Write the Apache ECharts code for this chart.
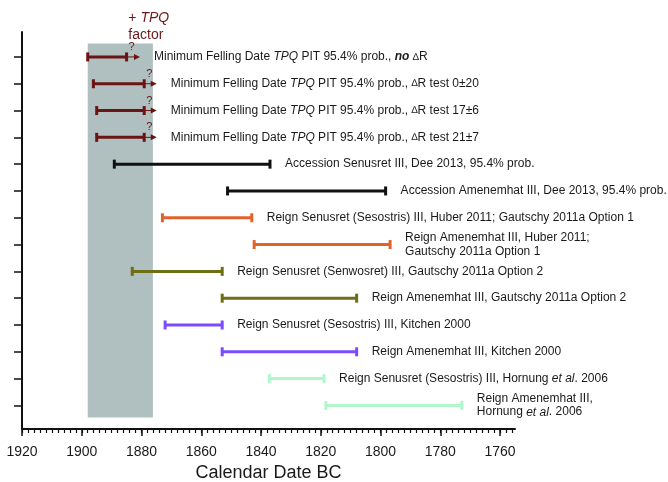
<!DOCTYPE html>
<html>
<head>
<meta charset="utf-8">
<script src="https://cdn.jsdelivr.net/npm/echarts@6/dist/echarts.min.js"></script>
<style>html,body{margin:0;padding:0;background:#fff}#c{width:668px;height:482px}</style>
</head>
<body>
<div id="c"></div>
<script>
// ---- data ----
const rows = [1, 2, 3, 4, 5, 6, 7, 8, 9, 10, 11, 12, 13, 14];
const startYears = [1898.0, 1896.1, 1895.0, 1895.0, 1889.1, 1851.2, 1873.0, 1842.3, 1883.1, 1853.0, 1872.1, 1853.0, 1837.2, 1818.3];
const endYears   = [1885.0, 1879.1, 1879.1, 1879.1, 1837.0, 1798.3, 1843.1, 1796.8, 1853.0, 1808.0, 1853.0, 1808.0, 1818.9, 1772.8];
const arrowYears = [1880.5, 1874.9, 1874.9, 1874.9, null, null, null, null, null, null, null, null, null, null];
const rowColors  = ['#6b1414', '#6b1414', '#6b1414', '#6b1414', '#111111', '#111111', '#e2622c', '#e2622c',
                    '#6e6e14', '#6e6e14', '#7b4cff', '#7b4cff', '#b2f6cc', '#b2f6cc'];
const rowLabels = [
  '{n|Minimum Felling Date }{i|TPQ}{n| PIT 95.4% prob., }{bi|no}{n| }{d|∆}{n|R}',
  '{n|Minimum Felling Date }{i|TPQ}{n| PIT 95.4% prob., }{d|∆}{n|R test 0±20}',
  '{n|Minimum Felling Date }{i|TPQ}{n| PIT 95.4% prob., }{d|∆}{n|R test 17±6}',
  '{n|Minimum Felling Date }{i|TPQ}{n| PIT 95.4% prob., }{d|∆}{n|R test 21±7}',
  '{n|Accession Senusret III, Dee 2013, 95.4% prob.}',
  '{n|Accession Amenemhat III, Dee 2013, 95.4% prob.}',
  '{n|Reign Senusret (Sesostris) III, Huber 2011; Gautschy 2011a Option 1}',
  '{n|Reign Amenemhat III, Huber 2011;}\n{n|Gautschy 2011a Option 1}',
  '{n|Reign Senusret (Senwosret) III, Gautschy 2011a Option 2}',
  '{n|Reign Amenemhat III, Gautschy 2011a Option 2}',
  '{n|Reign Senusret (Sesostris) III, Kitchen 2000}',
  '{n|Reign Amenemhat III, Kitchen 2000}',
  '{n|Reign Senusret (Sesostris) III, Hornung }{i|et al}{n|. 2006}',
  '{n|Reign Amenemhat III,}\n{n|Hornung }{i|et al}{n|. 2006}'
];
const tpqRange = [1898.0, 1876.2];   // grey band (years)
const tpqRows  = [0.5, 14.45];
const majorTicks = [1760, 1780, 1800, 1820, 1840, 1860, 1880, 1900, 1920];
const minorTicks = [];
for (let y = 1756; y <= 1920; y += 2) minorTicks.push(y);

const FONT = '"Liberation Sans", Arial, Helvetica, sans-serif';

const seriesData = rows.map((r, i) => [startYears[i], endYears[i], r, arrowYears[i] == null ? -1 : arrowYears[i]]);

const rich = {
  n:  { fontSize: 12, fontFamily: FONT, fill: '#1a1a1a', lineHeight: 13.5 },
  i:  { fontSize: 12, fontFamily: FONT, fill: '#1a1a1a', fontStyle: 'italic', lineHeight: 13.5 },
  bi: { fontSize: 12, fontFamily: FONT, fill: '#1a1a1a', fontStyle: 'italic', fontWeight: 'bold', lineHeight: 13.5 },
  d:  { fontSize: 10, fontFamily: FONT, fill: '#1a1a1a', lineHeight: 13.5 }
};

function renderItem(params, api) {
  const i = params.dataIndex;
  const row = api.value(2);
  const s = api.coord([api.value(0), row]);
  const e = api.coord([api.value(1), row]);
  const col = rowColors[i];
  const y = s[1];
  const capH = 4.5;
  const children = [
    { type: 'line', shape: { x1: s[0], y1: y, x2: e[0], y2: y }, style: { stroke: col, lineWidth: 3 } },
    { type: 'line', shape: { x1: s[0], y1: y - capH, x2: s[0], y2: y + capH }, style: { stroke: col, lineWidth: 3 } },
    { type: 'line', shape: { x1: e[0], y1: y - capH, x2: e[0], y2: y + capH }, style: { stroke: col, lineWidth: 3 } }
  ];
  let lx = e[0];
  const av = api.value(3);
  if (av > 0) {
    const a = api.coord([av, row]);
    children.push({ type: 'line', shape: { x1: e[0], y1: y, x2: a[0] - 4, y2: y }, style: { stroke: col, lineWidth: 1 } });
    children.push({ type: 'polygon', shape: { points: [[a[0], y], [a[0] - 6, y - 3], [a[0] - 6, y + 3]] }, style: { fill: col } });
    children.push({ type: 'text', style: { text: '?', x: e[0] + 5, y: y - 10, align: 'center', verticalAlign: 'middle', fontSize: 11, fontFamily: FONT, fill: col } });
    lx = a[0] - 1;
  }
  children.push({
    type: 'text',
    style: { text: rowLabels[i], rich: rich, x: lx + 15, y: y, align: 'left', verticalAlign: 'middle', fontSize: 12, fontFamily: FONT, fill: '#1a1a1a' }
  });
  return { type: 'group', children: children };
}

const chart = echarts.init(document.getElementById('c'), null, { renderer: 'canvas' });
chart.setOption({
  animation: false,
  backgroundColor: '#ffffff',
  grid: { left: 22, right: 153, top: 32, bottom: 53, containLabel: false, outerBoundsMode: 'none' },
  xAxis: [{
    type: 'value', inverse: true, min: 1755, max: 1920, position: 'bottom',
    name: 'Calendar Date BC', nameLocation: 'middle', nameGap: 35, nameMoveOverlap: false,
    nameTextStyle: { fontSize: 18, fontFamily: FONT, color: '#1a1a1a', verticalAlign: 'top' },
    axisLine: { show: true, onZero: false, lineStyle: { color: '#111', width: 2 } },
    axisTick: { show: true, customValues: minorTicks, length: 4, lineStyle: { color: '#111', width: 1.2 } },
    axisLabel: { show: true, customValues: majorTicks, margin: 16.5, fontSize: 14, fontFamily: FONT, color: '#1a1a1a',
                 formatter: function (v) { return String(Math.round(v)); } },
    splitLine: { show: false }
  }, {
    type: 'value', inverse: true, min: 1755, max: 1920, position: 'bottom',
    axisLine: { show: false, onZero: false },
    axisTick: { show: true, customValues: majorTicks, length: 7, lineStyle: { color: '#111', width: 1.5 } },
    axisLabel: { show: false },
    splitLine: { show: false }
  }],
  yAxis: {
    type: 'value', inverse: true, min: 0.07, max: 14.88,
    axisLine: { show: true, onZero: false, lineStyle: { color: '#111', width: 2 } },
    axisTick: { show: true, customValues: rows, length: 8, lineStyle: { color: '#111', width: 1.5 } },
    axisLabel: { show: false },
    splitLine: { show: false }
  },
  series: [{
    type: 'line', data: [], z: 1, silent: true,
    markArea: {
      silent: true,
      itemStyle: { color: '#b0bfbf' },
      label: {
        show: true, position: [40.6, -34], align: 'left', verticalAlign: 'top',
        formatter: '{p|+ }{pi|TPQ}\n{p|factor}',
        rich: {
          p:  { fontSize: 14, fontFamily: FONT, color: '#6b1a1a', lineHeight: 17 },
          pi: { fontSize: 14, fontFamily: FONT, color: '#6b1a1a', fontStyle: 'italic', lineHeight: 17 }
        }
      },
      data: [[{ xAxis: tpqRange[0], yAxis: tpqRows[0] }, { xAxis: tpqRange[1], yAxis: tpqRows[1] }]]
    }
  }, {
    type: 'custom', z: 5, clip: false,
    renderItem: renderItem,
    encode: { x: [0, 1, 3], y: 2 },
    data: seriesData
  }]
});
</script>
</body>
</html>
